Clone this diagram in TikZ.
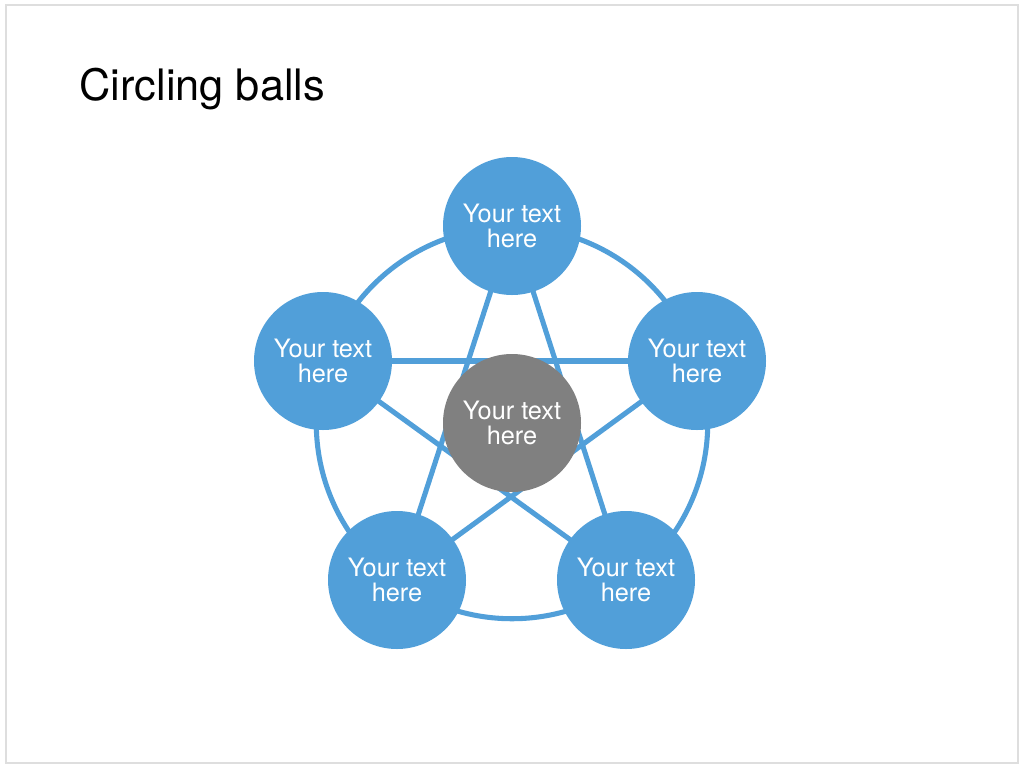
\documentclass[tikz,border=0pt]{standalone}
\usepackage{fontspec}
\setmainfont{TeX Gyre Heros}
\usepackage{xcolor}
\usepackage{tikz}
\usetikzlibrary{backgrounds}
\definecolor{ballblue}{RGB}{81,159,217}
\definecolor{ballgray}{RGB}{128,128,128}
\definecolor{framegray}{RGB}{222,222,222}

\begin{document}
\begin{tikzpicture}[
    x=0.75pt, y=-0.75pt,
    ball/.style={circle, fill=ballblue, minimum size=103.5pt, inner sep=0pt, align=center,
                 text=white, font=\fontsize{19}{18.5}\selectfont},
    link/.style={draw=ballblue, line width=3.8pt}
]
\useasboundingbox (0,0) rectangle (1024,768);
\draw[framegray, line width=1.5pt] (6,5) rectangle (1018,763);
\node[anchor=base west, font=\fontsize{32.5}{36}\selectfont] (title) at (75,100) {Circling balls};

% the five outer balls and the middle one
\node[ball] (top) at (512,226) {Your text\\here};
\node[ball] (left) at (323,361) {Your text\\here};
\node[ball] (right) at (697,361) {Your text\\here};
\node[ball] (botleft) at (397,580) {Your text\\here};
\node[ball] (botright) at (626,580) {Your text\\here};
\node[ball, fill=ballgray] (mid) at (512,423) {Your text\\here};

\begin{scope}[on background layer]
\draw[link] (mid.center) circle[radius=146.8pt];
\draw[link] (top.center) -- (botleft.center);
\draw[link] (top.center) -- (botright.center);
\draw[link] (left.center) -- (right.center);
\draw[link] (left.center) -- (botright.center);
\draw[link] (right.center) -- (botleft.center);
\end{scope}
\end{tikzpicture}
\end{document}
